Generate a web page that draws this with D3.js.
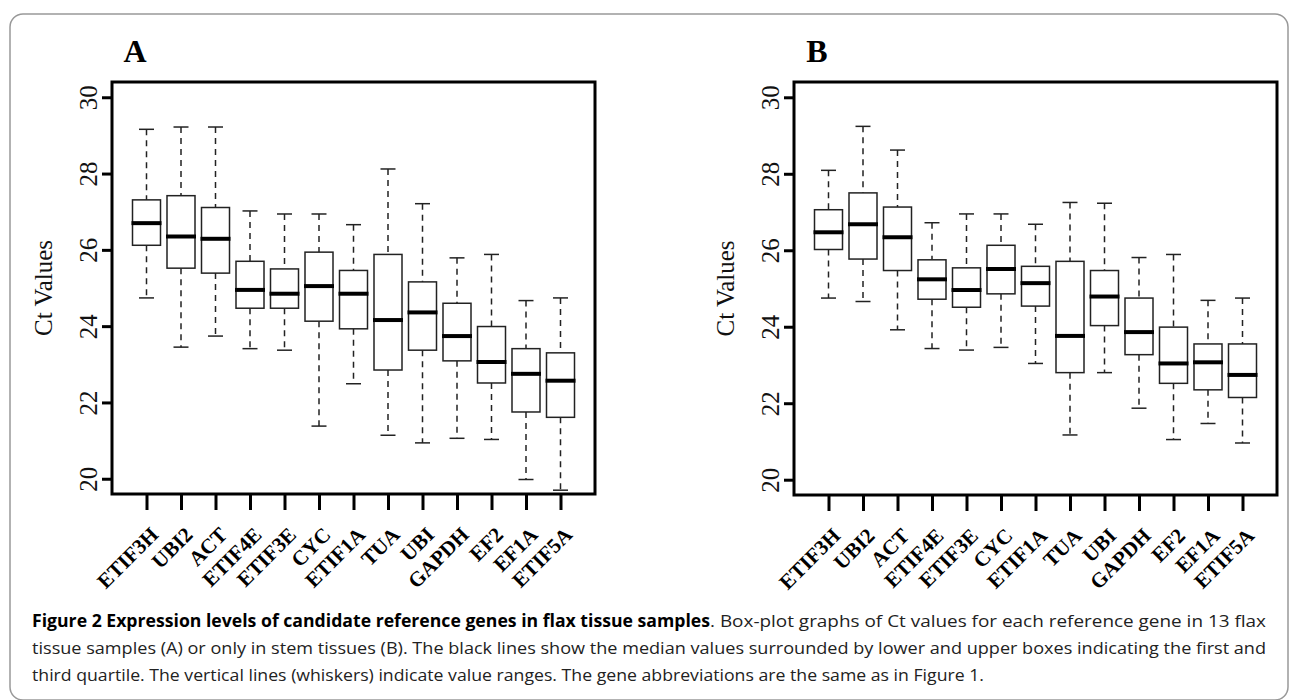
<!DOCTYPE html>
<html><head><meta charset="utf-8">
<script src="https://cdn.jsdelivr.net/npm/d3@7"></script>
<style>body{margin:0;background:#fff;} svg{display:block;}</style>
</head><body>
<svg id="chart" width="1292" height="700"></svg>
<script>
// ---- data ----
const genes = ["ETIF3H","UBI2","ACT","ETIF4E","ETIF3E","CYC","ETIF1A","TUA","UBI","GAPDH","EF2","EF1A","ETIF5A"];
const yTicks = [20,22,24,26,28,30];
// Panel A: all 13 tissue samples
const aMin = [24.74,23.45,23.74,23.41,23.37,21.38,22.49,21.14,20.94,21.06,21.03,19.98,19.70];
const aQ1  = [26.12,25.52,25.39,24.47,24.47,24.13,23.93,22.85,23.37,23.09,22.51,21.75,21.61];
const aMed = [26.70,26.35,26.29,24.95,24.85,25.05,24.85,24.16,24.36,23.74,23.06,22.75,22.57];
const aQ3  = [27.31,27.42,27.11,25.70,25.50,25.94,25.46,25.88,25.16,24.60,23.99,23.41,23.30];
const aMax = [29.16,29.22,29.22,27.02,26.94,26.94,26.66,28.12,27.21,25.79,25.88,24.67,24.74];
// Panel B: stem tissues only
const bMin = [24.75,24.66,23.92,23.43,23.39,23.46,23.04,21.17,22.80,21.87,21.05,21.47,20.96];
const bQ1  = [26.02,25.77,25.47,24.72,24.51,24.86,24.54,22.80,24.03,23.27,22.52,22.35,22.15];
const bMed = [26.47,26.68,26.34,25.24,24.96,25.51,25.14,23.76,24.79,23.86,23.04,23.07,22.74];
const bQ3  = [27.06,27.50,27.13,25.75,25.54,26.13,25.58,25.71,25.47,24.75,23.99,23.55,23.55];
const bMax = [28.09,29.24,28.62,26.72,26.95,26.95,26.68,27.25,27.23,25.81,25.89,24.69,24.75];

const svg = d3.select("#chart");
const serif = "'Liberation Serif','Times New Roman',serif";

// outer rounded border
svg.append("rect").attr("x",10).attr("y",14).attr("width",1278).attr("height",686)
  .attr("rx",13).attr("fill","none").attr("stroke","#999").attr("stroke-width",1.5);

function panel(opts){
  const {left,right,top,bottom,letter,mins,q1,med,q3,maxs} = opts;
  const g = svg.append("g");
  const y = d3.scaleLinear().domain([19.6,30.4]).range([bottom,top]);
  const x = d3.scalePoint().domain(genes).range([left,right]).padding(1);
  const bw = 28, cap = 15;

  // y axis
  const ya = g.append("g").attr("transform",`translate(${left},0)`)
    .call(d3.axisLeft(y).tickValues(yTicks).tickSize(10).tickFormat(d3.format("d")));
  ya.select(".domain").remove();
  ya.selectAll(".tick line").attr("stroke","#000").attr("stroke-width",3);
  ya.selectAll(".tick text").attr("font-family",serif).attr("font-size",25).attr("fill","#111")
    .attr("text-anchor","middle").attr("x",null).attr("dy",null)
    .attr("transform","translate(-15,0) rotate(-90)");

  // x axis
  const xa = g.append("g").attr("transform",`translate(0,${bottom})`)
    .call(d3.axisBottom(x).tickSize(16).tickFormat(""));
  xa.select(".domain").remove();
  xa.selectAll(".tick line").attr("stroke","#000").attr("stroke-width",3);
  genes.forEach(gn=>{
    g.append("text").attr("font-family",serif).attr("font-weight","bold").attr("font-size",21)
      .attr("text-anchor","end")
      .attr("transform",`translate(${x(gn)+13},${bottom+42}) rotate(-45)`).text(gn);
  });

  // boxes
  genes.forEach((gn,i)=>{
    const cx = x(gn);
    g.append("line").attr("x1",cx).attr("x2",cx).attr("y1",y(maxs[i])).attr("y2",y(q3[i]))
      .attr("stroke","#222").attr("stroke-width",1.5).attr("stroke-dasharray","6,5");
    g.append("line").attr("x1",cx).attr("x2",cx).attr("y1",y(q1[i])).attr("y2",y(mins[i]))
      .attr("stroke","#222").attr("stroke-width",1.5).attr("stroke-dasharray","6,5");
    [maxs[i],mins[i]].forEach(v=>g.append("line").attr("x1",cx-cap/2).attr("x2",cx+cap/2)
      .attr("y1",y(v)).attr("y2",y(v)).attr("stroke","#222").attr("stroke-width",1.5));
    g.append("rect").attr("x",cx-bw/2).attr("width",bw).attr("y",y(q3[i]))
      .attr("height",y(q1[i])-y(q3[i])).attr("fill","#fff").attr("stroke","#222").attr("stroke-width",1.5);
    g.append("line").attr("x1",cx-bw/2-1).attr("x2",cx+bw/2+1).attr("y1",y(med[i])).attr("y2",y(med[i]))
      .attr("stroke","#000").attr("stroke-width",4);
  });

  // frame
  g.append("rect").attr("x",left).attr("y",top).attr("width",right-left).attr("height",bottom-top)
    .attr("fill","none").attr("stroke","#000").attr("stroke-width",3);

  // y label
  g.append("text").attr("font-family",serif).attr("font-size",25).attr("text-anchor","middle").attr("fill","#111")
    .attr("transform",`translate(${left-60},${(top+bottom)/2}) rotate(-90)`).text("Ct Values");
  // panel letter
  g.append("text").attr("font-family",serif).attr("font-weight","bold").attr("font-size",32)
    .attr("text-anchor","middle").attr("x",left+23).attr("y",62).text(letter);
}

panel({left:112,right:595,top:82,bottom:494,letter:"A",mins:aMin,q1:aQ1,med:aMed,q3:aQ3,maxs:aMax});
panel({left:794,right:1277,top:82,bottom:495,letter:"B",mins:bMin,q1:bQ1,med:bMed,q3:bQ3,maxs:bMax});

// caption
const sans = "'Liberation Sans Narrow','Open Sans','Noto Sans',sans-serif";
svg.append("text").attr("font-family",sans).attr("font-weight","bold").attr("font-size",17)
  .attr("x",32).attr("y",627).attr("textLength",678).attr("lengthAdjust","spacingAndGlyphs")
  .text("Figure 2 Expression levels of candidate reference genes in flax tissue samples");
svg.append("text").attr("font-family",sans).attr("font-size",17)
  .attr("x",710).attr("y",627).attr("textLength",556).attr("lengthAdjust","spacingAndGlyphs").attr("fill","#222")
  .text(". Box-plot graphs of Ct values for each reference gene in 13 flax");
svg.append("text").attr("font-family",sans).attr("font-size",17)
  .attr("x",32).attr("y",654).attr("textLength",1234).attr("lengthAdjust","spacingAndGlyphs").attr("fill","#222")
  .text("tissue samples (A) or only in stem tissues (B). The black lines show the median values surrounded by lower and upper boxes indicating the first and");
svg.append("text").attr("font-family",sans).attr("font-size",17)
  .attr("x",32).attr("y",681).attr("textLength",952).attr("lengthAdjust","spacingAndGlyphs").attr("fill","#222")
  .text("third quartile. The vertical lines (whiskers) indicate value ranges. The gene abbreviations are the same as in Figure 1.");
</script>
</body></html>
